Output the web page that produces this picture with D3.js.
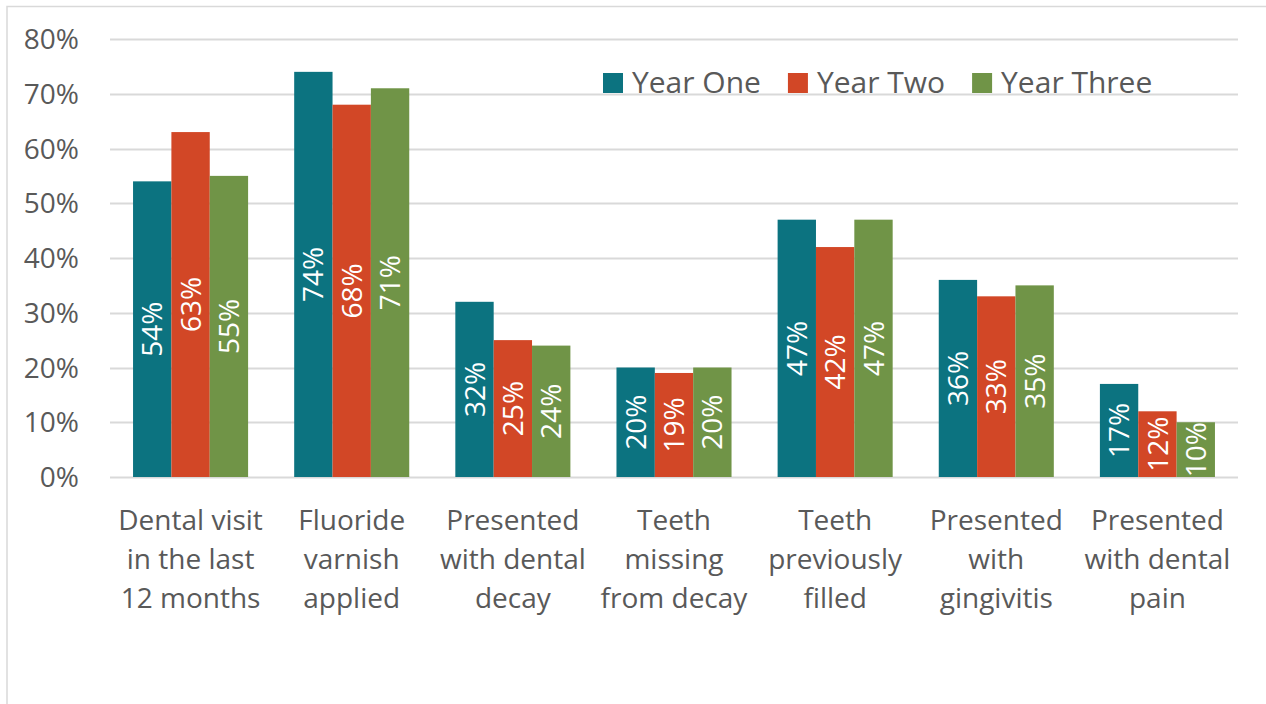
<!DOCTYPE html>
<html>
<head>
<meta charset="utf-8">
<script src="https://cdn.jsdelivr.net/npm/d3@7"></script>
<style>
  html, body { margin: 0; padding: 0; background: #fff; }
  svg { display: block; }
  text { font-family: "Open Sans", "Noto Sans", sans-serif; }
</style>
</head>
<body>
<svg id="chart" width="1266" height="704"></svg>
<script>
// ---- data ----
const categories = [
  ["Dental visit", "in the last", "12 months"],
  ["Fluoride", "varnish", "applied"],
  ["Presented", "with dental", "decay"],
  ["Teeth", "missing", "from decay"],
  ["Teeth", "previously", "filled"],
  ["Presented", "with", "gingivitis"],
  ["Presented", "with dental", "pain"]
];
const seriesNames = ["Year One", "Year Two", "Year Three"];
const yearOne   = [54, 74, 32, 20, 47, 36, 17];
const yearTwo   = [63, 68, 25, 19, 42, 33, 12];
const yearThree = [55, 71, 24, 20, 47, 35, 10];
const yTicks = [0, 10, 20, 30, 40, 50, 60, 70, 80];
const colors = ["#0c7380", "#d24726", "#709447"];

const seriesValues = [yearOne, yearTwo, yearThree];
const catKeys = categories.map((c, i) => i);

// ---- layout ----
const svg = d3.select("#chart");
const plot = { left: 110, right: 1238, top: 39, bottom: 477 };
const textColor = "#595959";
const gridColor = "#d9d9d9";
const fontSize = 28;
const legendFontSize = 30;

// outer chart border
svg.append("rect")
  .attr("x", 7).attr("y", 6.5)
  .attr("width", 1300).attr("height", 800)
  .attr("fill", "none").attr("stroke", gridColor).attr("stroke-width", 1.5);

const x = d3.scaleBand().domain(catKeys).range([plot.left, plot.right])
  .paddingInner(0.286).paddingOuter(0.143);
const xs = d3.scaleBand().domain(d3.range(seriesNames.length)).range([0, x.bandwidth()]);
const y = d3.scaleLinear().domain([0, 80]).range([plot.bottom, plot.top]);

// gridlines
svg.append("g").selectAll("line").data(yTicks).join("line")
  .attr("x1", plot.left).attr("x2", plot.right)
  .attr("y1", d => Math.round(y(d)) + 0.5).attr("y2", d => Math.round(y(d)) + 0.5)
  .attr("stroke", gridColor).attr("stroke-width", 2);

// y tick labels
svg.append("g").selectAll("text").data(yTicks).join("text")
  .attr("x", 79).attr("y", d => y(d)).attr("dy", "0.36em")
  .attr("text-anchor", "end")
  .attr("fill", textColor).attr("font-size", fontSize)
  .text(d => d + "%");

// bars and data labels
seriesValues.forEach((vals, si) => {
  const g = svg.append("g");
  g.selectAll("rect").data(vals).join("rect")
    .attr("x", (d, ci) => x(ci) + xs(si))
    .attr("y", d => y(d))
    .attr("width", xs.bandwidth())
    .attr("height", d => y(0) - y(d))
    .attr("fill", colors[si]);
  g.selectAll("text").data(vals).join("text")
    .attr("transform", (d, ci) => {
      const cx = x(ci) + xs(si) + xs.bandwidth() / 2;
      const cy = (y(d) + y(0)) / 2;
      return `translate(${cx},${cy}) rotate(-90)`;
    })
    .attr("dy", "0.36em")
    .attr("text-anchor", "middle")
    .attr("fill", "#ffffff").attr("font-size", fontSize)
    .text(d => d + "%");
});

// x category labels
const xl = svg.append("g");
categories.forEach((lines, ci) => {
  const cx = x(ci) + x.bandwidth() / 2;
  const t = xl.append("text")
    .attr("text-anchor", "middle")
    .attr("fill", textColor).attr("font-size", fontSize);
  lines.forEach((ln, li) => {
    t.append("tspan").attr("x", cx).attr("y", 530 + li * 39).text(ln);
  });
});

// legend
const legend = svg.append("g");
let lx = 603;
seriesNames.forEach((name, i) => {
  legend.append("rect")
    .attr("x", lx).attr("y", 73).attr("width", 20).attr("height", 20)
    .attr("fill", colors[i]);
  const t = legend.append("text")
    .attr("x", lx + 29).attr("y", 82.5).attr("dy", "0.36em")
    .attr("fill", textColor).attr("font-size", legendFontSize)
    .text(name);
  lx += 29 + t.node().getComputedTextLength() + 27;
});
</script>
</body>
</html>
